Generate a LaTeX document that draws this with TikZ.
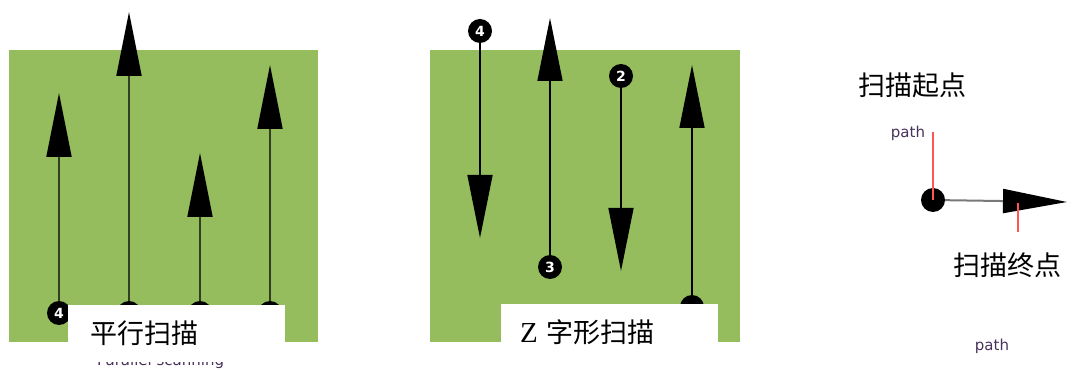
\documentclass[tikz,border=0pt]{standalone}
\usepackage{fontspec}
\newfontfamily\cjk{Noto Sans CJK SC}
\newfontfamily\serifz{Liberation Serif}
\newfontfamily\pathfont{DejaVu Sans}
\usetikzlibrary{arrows.meta}
\definecolor{fieldgreen}{RGB}{149,189,93}
\definecolor{trackline}{RGB}{50,62,32}
\definecolor{markred}{RGB}{255,85,85}
\definecolor{pathtext}{RGB}{70,50,90}
\definecolor{legendgray}{RGB}{120,120,120}
\tikzset{
  field/.style={fill=fieldgreen, draw=none},
  num/.style={circle, fill=black, minimum size=24pt, inner sep=0pt, text=white,
    font=\pathfont\bfseries\fontsize{14}{14}\selectfont},
  track/.style={line width=2pt, draw=trackline,
    -{Triangle[length=64pt, width=25pt, color=black, fill=black]}},
  ztrack/.style={line width=1.5pt, draw=black,
    -{Triangle[length=63pt, width=25pt, color=black, fill=black]}},
  labelbox/.style={fill=white, draw=none, anchor=north west, inner ysep=0pt,
    minimum height=57pt, align=left, font=\cjk\fontsize{27}{29}\selectfont},
  cjktext/.style={inner sep=0pt, anchor=west, font=\cjk\fontsize{27}{29}\selectfont},
  pathlabel/.style={inner sep=0pt, text=pathtext, font=\pathfont\fontsize{15}{15}\selectfont},
  redmark/.style={draw=markred, line width=1.6pt},
}
\begin{document}
\begin{tikzpicture}[x=1pt, y=-1pt]
\useasboundingbox (0,0) rectangle (1072,371);
\clip (0,0) rectangle (1072,371);

% ---------- left panel: parallel scanning ----------
\fill[field] (9,50) rectangle (318,342);
\node[num] (p1) at (59,313) {4};
\node[num] (p2) at (129,313) {};
\node[num] (p3) at (200,313) {};
\node[num] (p4) at (270,313) {};
\coordinate (pt1) at (59,93);
\coordinate (pt2) at (129,12);
\coordinate (pt3) at (200,153);
\coordinate (pt4) at (270,65);
\draw[track] (p1) -- (pt1);
\draw[track] (p2) -- (pt2);
\draw[track] (p3) -- (pt3);
\draw[track] (p4) -- (pt4);
\node[pathlabel, anchor=base west] (pcap) at (97,366) {Parallel scanning};
\node[labelbox, text width=173pt, inner xsep=22pt] (pbox) at (68,305) {平行扫描};

% ---------- middle panel: zigzag scanning ----------
\fill[field] (430,50) rectangle (740,342);
\node[num] (z4) at (480,31) {4};
\node[num] (z3) at (550,267) {3};
\node[num] (z2) at (621,76) {2};
\node[num] (z1) at (692,307) {};
\coordinate (zt4) at (480,238);
\coordinate (zt3) at (550,18);
\coordinate (zt2) at (621,271);
\coordinate (zt1) at (692,65);
\draw[ztrack] (z4) -- (zt4);
\draw[ztrack] (z3) -- (zt3);
\draw[ztrack] (z2) -- (zt2);
\draw[ztrack] (z1) -- (zt1);
\node[labelbox, text width=179pt, inner xsep=19pt] (zbox) at (501,304) {{\serifz\fontsize{29}{29}\selectfont Z} 字形扫描};

% ---------- legend ----------
\node[cjktext] (startlbl) at (858,85) {扫描起点};
\node[pathlabel] (pathtop) at (908,133) {path};
\node[circle, fill=black, minimum size=24pt, inner sep=0pt] (start) at (933,200) {};
\coordinate (endtip) at (1067,202);
\draw[line width=2pt, draw=legendgray,
  -{Triangle[length=64pt, width=24pt, color=black, fill=black]}] (start) -- (endtip);
\coordinate (redtop) at (933,132);
\draw[redmark] (redtop) -- (start.center);
\coordinate (redA) at (1018,203);
\coordinate (redB) at (1018,232);
\draw[redmark] (redA) -- (redB);
\node[cjktext] (endlbl) at (953,265) {扫描终点};
\node[pathlabel] (pathbot) at (992,346) {path};
\end{tikzpicture}
\end{document}
